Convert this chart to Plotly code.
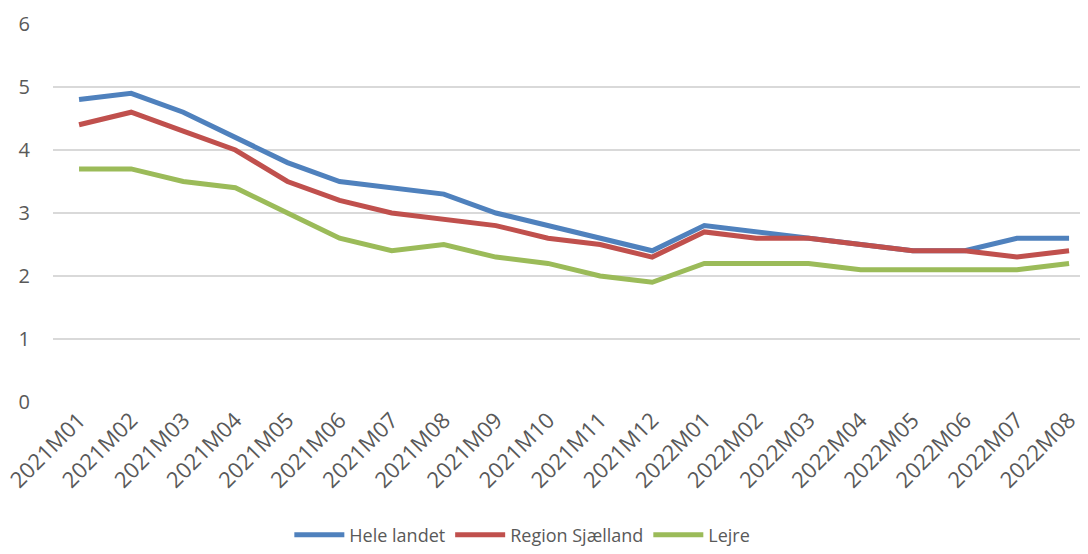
import plotly.graph_objects as go

categories = ["2021M01", "2021M02", "2021M03", "2021M04", "2021M05", "2021M06",
              "2021M07", "2021M08", "2021M09", "2021M10", "2021M11", "2021M12",
              "2022M01", "2022M02", "2022M03", "2022M04", "2022M05", "2022M06",
              "2022M07", "2022M08"]
hele_landet = [4.8, 4.9, 4.6, 4.2, 3.8, 3.5, 3.4, 3.3, 3.0, 2.8, 2.6, 2.4,
               2.8, 2.7, 2.6, 2.5, 2.4, 2.4, 2.6, 2.6]
region_sjaelland = [4.4, 4.6, 4.3, 4.0, 3.5, 3.2, 3.0, 2.9, 2.8, 2.6, 2.5, 2.3,
                    2.7, 2.6, 2.6, 2.5, 2.4, 2.4, 2.3, 2.4]
lejre = [3.7, 3.7, 3.5, 3.4, 3.0, 2.6, 2.4, 2.5, 2.3, 2.2, 2.0, 1.9,
         2.2, 2.2, 2.2, 2.1, 2.1, 2.1, 2.1, 2.2]
y_ticks = [0, 1, 2, 3, 4, 5, 6]

series = [
    ("Hele landet", hele_landet, "#4f81bd"),
    ("Region Sjælland", region_sjaelland, "#c0504d"),
    ("Lejre", lejre, "#9bbb59"),
]

fig = go.Figure()
for name, vals, color in series:
    fig.add_trace(go.Scatter(x=categories, y=vals, name=name, mode="lines",
                             line=dict(color=color, width=5)))

font_family = "Open Sans"
fig.update_layout(
    width=1072, height=538,
    margin=dict(l=45, r=0, t=16, b=144, autoexpand=False),
    paper_bgcolor="white", plot_bgcolor="white",
    font=dict(family=font_family, size=18, color="#595959"),
    showlegend=True,
    legend=dict(orientation="h", x=0.457, xanchor="center", y=-0.352, yanchor="middle",
                font=dict(size=18, color="#595959"), traceorder="normal",
                itemwidth=50),
    xaxis=dict(type="category", tickangle=-45, showgrid=False, showline=False,
               ticks="", tickfont=dict(size=22, color="#595959"),
               range=[-0.5, 19.21], automargin=False),
    yaxis=dict(range=[0, 6], tickvals=y_ticks, showgrid=True, gridcolor="#d9d9d9",
               gridwidth=1.5, zeroline=False, showline=False, ticks="",
               tickfont=dict(size=20, color="#595959"), ticklabelstandoff=22,
               automargin=False),
)
fig.write_html("out.html")
